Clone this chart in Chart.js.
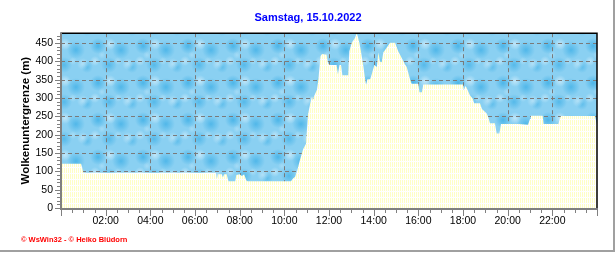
<!DOCTYPE html>
<html><head><meta charset="utf-8">
<script src="https://cdn.jsdelivr.net/npm/chart.js@4"></script>
<style>
html,body{margin:0;padding:0;background:#fff;}
#wrap{position:relative;width:616px;height:253px;overflow:hidden;}
canvas{display:block;}
#copy{position:absolute;left:21px;top:235px;font:bold 7.5px "Liberation Sans",Arial,sans-serif;color:#f00;white-space:nowrap;}
</style></head><body>
<div id="wrap"><canvas id="c" width="616" height="253"></canvas><div id="copy">© WsWin32 - © Heiko Blüdorn</div></div>
<script>
const chartTitle = 'Samstag, 15.10.2022';
const yTitle = 'Wolkenuntergrenze (m)';
const hours = [0,0.9,0.95,1.0,6.93,6.98,7.03,7.2,7.25,7.3,7.42,7.5,7.8,7.85,8.0,8.1,8.2,8.3,8.35,10.3,10.38,10.48,10.57,10.70,10.84,10.97,11.06,11.15,11.24,11.28,11.33,11.46,11.53,11.62,11.69,11.89,11.96,12.03,12.34,12.40,12.47,12.54,12.60,12.86,12.91,13.02,13.16,13.24,13.28,13.36,13.43,13.54,13.61,13.66,13.72,13.84,13.91,14.03,14.14,14.21,14.28,14.36,14.43,14.58,14.73,14.96,15.10,15.25,15.40,15.48,15.63,15.70,16.00,16.05,16.16,16.22,18.00,18.04,18.11,18.16,18.31,18.44,18.50,18.76,18.85,19.06,19.12,19.21,19.43,19.51,19.63,19.70,20.48,20.91,21.0,21.04,21.57,21.61,22.27,22.34,22.39,23.91,24.0];
const cloudBase = [121,121,110,96,96,80,92,92,84,92,92,73,73,90,92,87,92,75,73,73,80,85,100,132,160,175,255,283,305,295,305,323,355,415,420,418,395,390,390,365,390,390,362,362,428,451,464,477,470,451,428,387,355,337,351,351,364,390,385,424,400,398,424,437,451,451,428,410,392,385,351,339,339,316,316,337,337,322,333,328,308,298,286,286,270,258,250,231,231,203,203,229,229,227,243,252,252,229,229,245,251,251,228];
const yTicks = [0,50,100,150,200,250,300,350,400,450];
const xTicks = [2,4,6,8,10,12,14,16,18,20,22];

const canvas = document.getElementById('c');
const ctx0 = canvas.getContext('2d');

function cloudPattern(ctx){
  const W=45,H=37;
  const c=document.createElement('canvas'); c.width=W; c.height=H;
  const g=c.getContext('2d');
  g.fillStyle='#8ad0f2'; g.fillRect(0,0,W,H);
  const blobs=[
    [8,9,8,'rgba(50,170,228,0.7)'],[31,13,9,'rgba(50,170,228,0.65)'],[19,28,8,'rgba(50,170,228,0.6)'],[42,30,6,'rgba(50,170,228,0.5)'],
    [20,7,6,'rgba(215,240,252,0.7)'],[38,27,6,'rgba(215,240,252,0.55)'],[5,24,5,'rgba(215,240,252,0.6)'],[28,24,4,'rgba(205,236,250,0.45)'],[12,18,4,'rgba(205,236,250,0.4)']
  ];
  for(const [bx,by,r,col] of blobs){
    for(const ox of [-W,0,W]) for(const oy of [-H,0,H]){
      const gr=g.createRadialGradient(bx+ox,by+oy,0,bx+ox,by+oy,r);
      gr.addColorStop(0,col); gr.addColorStop(1,col.replace(/[\d.]+\)$/,'0)'));
      g.fillStyle=gr; g.fillRect(bx+ox-r,by+oy-r,2*r,2*r);
    }
  }
  return ctx.createPattern(c,'repeat');
}
function fillPattern(ctx){
  const c=document.createElement('canvas'); c.width=2; c.height=6;
  const g=c.getContext('2d');
  g.fillStyle='#ffffff'; g.fillRect(0,0,2,6);
  g.fillStyle='#ffffc6'; g.fillRect(0,0,1,5);
  return ctx.createPattern(c,'repeat');
}
const cloudPat = cloudPattern(ctx0);
const yellowPat = fillPattern(ctx0);

const deco = {
  id:'deco',
  beforeDraw(chart){
    const {ctx, chartArea:a} = chart;
    ctx.save(); ctx.fillStyle=cloudPat; ctx.fillRect(a.left,a.top,a.right-a.left,a.bottom-a.top); ctx.restore();
  },
  beforeDatasetsDraw(chart){
    const {ctx, chartArea:a, scales:{x,y}} = chart;
    ctx.save();
    ctx.strokeStyle='#7a7a7a'; ctx.lineWidth=1; ctx.setLineDash([4,3]);
    for(const v of yTicks){ if(v===0) continue;
      const py=Math.round(y.getPixelForValue(v))+0.5;
      ctx.beginPath(); ctx.moveTo(a.left,py); ctx.lineTo(a.right,py); ctx.stroke(); }
    for(const h of xTicks){
      const px=Math.round(x.getPixelForValue(h))+0.5;
      ctx.beginPath(); ctx.moveTo(px,a.top); ctx.lineTo(px,a.bottom); ctx.stroke(); }
    ctx.restore();
  },
  afterDatasetsDraw(chart){
    const {ctx, chartArea:a, scales:{x,y}} = chart;
    ctx.save();
    ctx.strokeStyle='#000'; ctx.lineWidth=1.5;
    ctx.beginPath(); ctx.moveTo(a.left,a.top); ctx.lineTo(a.right,a.top); ctx.lineTo(a.right,a.bottom); ctx.stroke();
    ctx.strokeStyle='#808080'; ctx.lineWidth=2;
    ctx.beginPath(); ctx.moveTo(a.left,a.top-1); ctx.lineTo(a.left,a.bottom+1); ctx.lineTo(a.right+1,a.bottom+1); ctx.stroke();
    ctx.lineWidth=1;
    for(let v=0; v<=y.max; v+=10){
      const py=Math.round(y.getPixelForValue(v))+0.5;
      const len = v%50===0 ? 5 : 3;
      ctx.beginPath(); ctx.moveTo(a.left-1-len,py); ctx.lineTo(a.left-1,py); ctx.stroke();
    }
    for(let h=0; h<=24; h+=0.5){
      const px=Math.round(x.getPixelForValue(h))+0.5;
      const len = h%2===0 ? 6 : 3;
      ctx.beginPath(); ctx.moveTo(px,a.bottom+2); ctx.lineTo(px,a.bottom+2+len); ctx.stroke();
    }
    ctx.restore();
  },
  afterDraw(chart){
    const ctx=chart.ctx;
    ctx.save(); ctx.strokeStyle='#a0a0a0'; ctx.lineWidth=2;
    ctx.beginPath(); ctx.moveTo(614,0); ctx.lineTo(614,251); ctx.lineTo(0,251); ctx.stroke();
    ctx.restore();
  }
};

const font = '"Liberation Sans", Arial, sans-serif';
new Chart(canvas, {
  type:'line',
  data:{ datasets:[{
    data: hours.map((h,i)=>({x:h, y:cloudBase[i]})),
    fill:'origin', backgroundColor:yellowPat, borderWidth:0, pointRadius:0, tension:0
  }]},
  options:{
    responsive:false, animation:false, devicePixelRatio:1,
    layout:{padding:{left:0,right:0,top:0,bottom:0}},
    plugins:{
      legend:{display:false}, tooltip:{enabled:false},
      title:{display:true, text:chartTitle, color:'#0000ff', font:{family:font, size:11, weight:'bold'}, padding:{top:11,bottom:9}}
    },
    scales:{
      x:{
        type:'linear', min:0, max:24,
        afterFit(s){ s.height=45; },
        afterBuildTicks(s){ s.ticks = xTicks.map(v=>({value:v})); },
        ticks:{ color:'#000', font:{family:font, size:10.5}, padding:7, maxRotation:0, autoSkip:false,
          callback:(v)=> String(v).padStart(2,'0')+':00' },
        grid:{ display:false, drawTicks:false, tickLength:0 },
        border:{ display:false }
      },
      y:{
        min:0, max:477,
        afterFit(s){ s.width=61; },
        afterBuildTicks(s){ s.ticks = yTicks.map(v=>({value:v})); },
        ticks:{ color:'#000', font:{family:font, size:10.5}, padding:8 },
        grid:{ display:false, drawTicks:false, tickLength:0 },
        border:{ display:false },
        title:{ display:true, text:yTitle, color:'#000', font:{family:font, size:11.5, weight:'bold'}, padding:{top:19,bottom:0} }
      },
      yr:{
        position:'right', min:0, max:1,
        afterFit(s){ s.width=19; },
        ticks:{ display:false },
        grid:{ display:false, drawTicks:false },
        border:{ display:false }
      }
    }
  },
  plugins:[deco]
});
</script>
</body></html>
